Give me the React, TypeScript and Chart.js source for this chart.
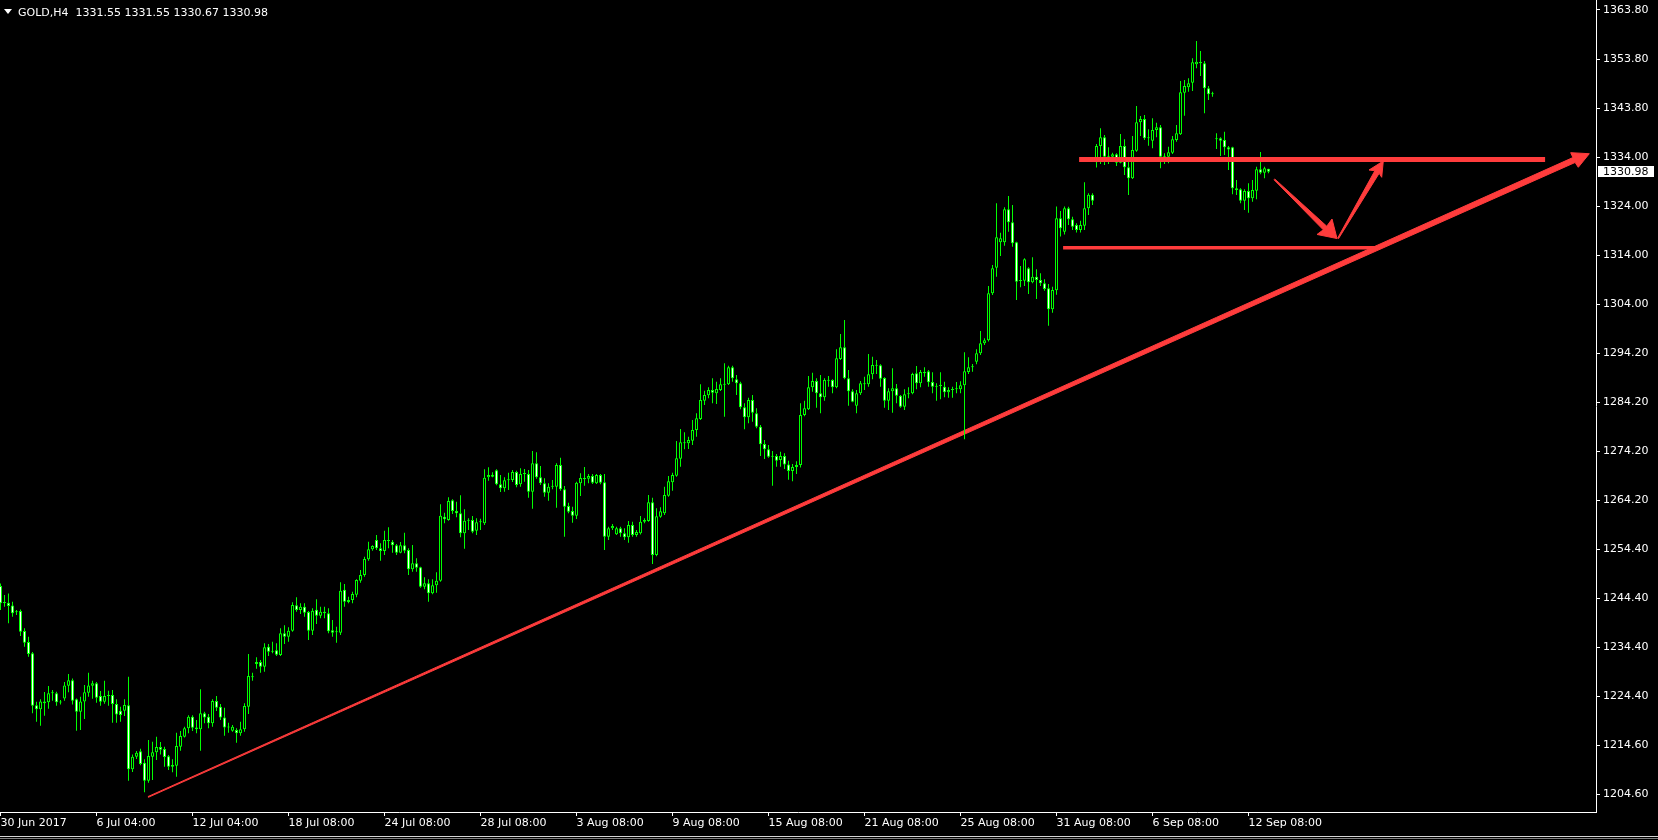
import React, { useEffect, useRef } from "react";
import { Chart, registerables } from "chart.js";

Chart.register(...registerables);

const symbol = "GOLD,H4";

const xTickBars = [0, 24, 48, 72, 96, 120, 144, 168, 192, 216, 240, 264, 288, 312];
const xTickLabels = [
  "30 Jun 2017", "6 Jul 04:00", "12 Jul 04:00", "18 Jul 08:00", "24 Jul 08:00",
  "28 Jul 08:00", "3 Aug 08:00", "9 Aug 08:00", "15 Aug 08:00", "21 Aug 08:00",
  "25 Aug 08:00", "31 Aug 08:00", "6 Sep 08:00", "12 Sep 08:00",
];

const yTickLabels = [
  "1363.80", "1353.80", "1343.80", "1334.00", "1324.00", "1314.00", "1304.00", "1294.20",
  "1284.20", "1274.20", "1264.20", "1254.40", "1244.40", "1234.40", "1224.40", "1214.60", "1204.60",
];
const yTickTop = 1363.8;
const yTickStep = 9.95;

const opens = [
  1246.84, 1243.40, 1243.46, 1242.90, 1241.50, 1241.76, 1237.70, 1235.47, 1233.17, 1222.61,
  1221.80, 1223.42, 1223.22, 1225.05, 1225.05, 1223.20, 1224.03, 1226.60, 1227.69, 1223.83,
  1221.33, 1223.42, 1225.18, 1226.60, 1227.08, 1224.51, 1223.36, 1224.51, 1224.71, 1222.88,
  1221.53, 1221.53, 1222.61, 1209.62, 1212.19, 1213.27, 1210.97, 1207.31, 1212.19, 1213.07,
  1214.15, 1213.75, 1212.26, 1210.16, 1210.36, 1214.22, 1216.25, 1217.94, 1220.31, 1218.14,
  1217.74, 1220.99, 1220.31, 1218.96, 1223.49, 1222.34, 1220.17, 1218.14, 1217.47, 1217.60,
  1216.93, 1217.74, 1222.34, 1228.50, 1231.00, 1231.42, 1230.47, 1234.53, 1233.50, 1233.78,
  1232.84, 1237.24, 1236.56, 1237.78, 1242.92, 1241.97, 1242.65, 1241.57, 1237.78, 1242.04,
  1240.82, 1241.63, 1241.30, 1237.84, 1237.44, 1237.37, 1246.10, 1243.60, 1244.00, 1245.09,
  1247.93, 1249.08, 1252.26, 1254.29, 1256.19, 1254.49, 1253.95, 1256.19, 1255.85, 1255.10,
  1253.61, 1255.10, 1254.16, 1250.23, 1251.45, 1250.64, 1246.71, 1247.39, 1245.36, 1246.98,
  1247.93, 1260.92, 1260.25, 1264.24, 1262.07, 1261.60, 1257.54, 1260.11, 1260.25, 1258.08,
  1259.77, 1259.57, 1268.91, 1269.05, 1270.33, 1267.49, 1266.68, 1268.30, 1268.37, 1269.99,
  1267.49, 1269.59, 1269.59, 1266.00, 1271.76, 1268.91, 1267.70, 1265.80, 1267.02, 1267.02,
  1271.42, 1266.48, 1263.09, 1262.08, 1261.13, 1267.70, 1268.78, 1268.64, 1269.19, 1267.70,
  1269.39, 1267.90, 1256.87, 1258.56, 1257.34, 1258.56, 1257.54, 1256.73, 1259.24, 1257.20,
  1257.54, 1259.91, 1260.05, 1263.84, 1253.14, 1260.93, 1261.60, 1265.19, 1267.90, 1269.25,
  1272.70, 1276.02, 1275.82, 1276.36, 1278.53, 1280.76, 1284.48, 1285.56, 1286.65, 1285.97,
  1286.65, 1287.80, 1287.80, 1291.25, 1288.81, 1288.00, 1283.13, 1281.10, 1284.62, 1281.91,
  1279.20, 1275.68, 1274.60, 1273.31, 1273.25, 1272.43, 1273.25, 1271.50, 1270.20, 1271.00,
  1271.40, 1281.56, 1282.71, 1287.18, 1288.47, 1285.96, 1285.15, 1288.67, 1288.67, 1287.18,
  1292.93, 1295.30, 1289.01, 1286.37, 1283.46, 1285.96, 1287.99, 1287.79, 1289.82, 1291.72,
  1291.65, 1289.08, 1284.48, 1286.37, 1286.98, 1285.49, 1283.26, 1285.76, 1285.96, 1290.02,
  1287.99, 1290.30, 1290.43, 1288.27, 1287.32, 1287.52, 1287.32, 1286.17, 1286.64, 1286.78,
  1286.78, 1287.59, 1290.30, 1291.24, 1292.39, 1294.09, 1296.12, 1296.72, 1306.27, 1311.48,
  1316.62, 1316.62, 1323.32, 1320.68, 1316.62, 1308.77, 1308.84, 1311.34, 1308.50, 1309.65,
  1308.98, 1308.30, 1307.28, 1303.02, 1306.90, 1321.50, 1318.80, 1323.53, 1321.30, 1320.15,
  1319.13, 1320.01, 1323.53, 1326.30, 1332.90, 1336.19, 1337.95, 1334.02, 1334.02, 1334.50,
  1332.80, 1336.19, 1331.86, 1329.62, 1335.24, 1340.99, 1341.67, 1337.74, 1337.27, 1339.44,
  1339.98, 1334.02, 1334.02, 1334.83, 1337.41, 1338.56, 1347.02, 1348.10, 1349.05, 1352.77,
  1353.24, 1352.97, 1347.90, 1346.68, 1337.54, 1337.74, 1337.41, 1335.92, 1335.92, 1327.59,
  1327.39, 1325.09, 1327.05, 1325.56, 1327.12, 1331.45, 1330.77, 1331.55,
];

const highs = [
  1247.38, 1245.01, 1245.35, 1243.66, 1241.97, 1242.10, 1238.25, 1236.55, 1233.44, 1223.36,
  1223.83, 1225.32, 1226.54, 1225.72, 1225.39, 1223.70, 1227.35, 1228.97, 1228.09, 1224.03,
  1224.37, 1226.74, 1229.24, 1227.62, 1227.35, 1225.52, 1227.62, 1225.59, 1225.72, 1223.83,
  1222.34, 1223.83, 1228.43, 1212.66, 1213.34, 1213.81, 1211.65, 1215.57, 1215.23, 1216.25,
  1215.17, 1214.22, 1212.53, 1211.65, 1217.06, 1217.40, 1218.28, 1220.58, 1220.58, 1219.63,
  1225.86, 1221.33, 1220.85, 1223.83, 1224.51, 1222.88, 1222.14, 1219.09, 1218.62, 1217.94,
  1219.30, 1223.02, 1233.03, 1229.24, 1232.36, 1231.82, 1235.20, 1235.07, 1235.54, 1235.20,
  1238.25, 1238.86, 1238.45, 1243.53, 1244.54, 1243.33, 1243.33, 1241.77, 1242.31, 1244.14,
  1242.65, 1242.65, 1242.31, 1239.94, 1238.59, 1247.59, 1247.25, 1244.68, 1245.70, 1248.20,
  1250.09, 1252.80, 1255.85, 1255.10, 1257.20, 1255.51, 1258.08, 1258.76, 1256.19, 1255.37,
  1255.78, 1257.67, 1254.49, 1255.17, 1252.46, 1250.77, 1248.61, 1248.20, 1248.20, 1249.62,
  1263.43, 1261.74, 1264.85, 1264.44, 1263.97, 1265.25, 1262.41, 1260.58, 1261.06, 1260.58,
  1260.52, 1270.53, 1270.94, 1269.92, 1270.53, 1269.38, 1268.91, 1269.86, 1270.40, 1270.26,
  1270.74, 1270.61, 1270.40, 1274.26, 1273.99, 1271.22, 1268.71, 1267.70, 1268.37, 1271.76,
  1272.91, 1267.15, 1263.77, 1262.96, 1268.03, 1269.73, 1271.01, 1269.59, 1269.59, 1269.59,
  1269.59, 1269.59, 1258.90, 1259.44, 1258.90, 1258.90, 1258.56, 1260.05, 1259.91, 1258.22,
  1261.06, 1260.59, 1265.33, 1264.79, 1262.62, 1262.82, 1267.02, 1269.19, 1269.86, 1276.29,
  1278.73, 1278.05, 1277.17, 1280.56, 1281.91, 1287.80, 1286.51, 1287.19, 1289.02, 1288.34,
  1289.02, 1292.06, 1291.59, 1291.59, 1289.69, 1288.34, 1283.94, 1285.09, 1285.63, 1282.92,
  1279.54, 1276.49, 1275.48, 1274.26, 1273.65, 1274.13, 1273.80, 1272.30, 1271.60, 1272.20,
  1283.93, 1284.48, 1289.48, 1290.16, 1289.01, 1289.69, 1289.01, 1289.48, 1288.81, 1294.90,
  1298.01, 1300.85, 1290.70, 1286.78, 1286.64, 1288.47, 1289.35, 1293.95, 1293.41, 1292.73,
  1291.85, 1289.21, 1286.98, 1291.04, 1287.86, 1285.62, 1286.78, 1287.18, 1290.16, 1291.51,
  1290.70, 1291.24, 1290.70, 1290.23, 1287.99, 1290.23, 1288.33, 1287.18, 1287.32, 1288.27,
  1288.40, 1294.29, 1293.27, 1291.92, 1294.90, 1298.62, 1297.13, 1307.76, 1312.02, 1324.54,
  1318.59, 1323.73, 1326.03, 1324.20, 1316.76, 1311.82, 1313.37, 1311.55, 1313.58, 1311.14,
  1310.33, 1309.11, 1308.16, 1307.62, 1323.90, 1323.00, 1323.90, 1323.87, 1321.84, 1320.49,
  1321.03, 1328.81, 1326.58, 1326.58, 1336.59, 1339.77, 1338.42, 1335.92, 1334.83, 1334.70,
  1338.62, 1337.54, 1333.01, 1338.22, 1344.31, 1342.28, 1342.48, 1339.57, 1341.80, 1340.92,
  1340.45, 1334.70, 1336.05, 1338.22, 1340.45, 1349.38, 1349.59, 1349.93, 1353.99, 1357.51,
  1355.48, 1353.45, 1348.37, 1347.22, 1338.76, 1337.95, 1339.10, 1336.19, 1336.05, 1329.28,
  1327.59, 1327.39, 1328.61, 1329.28, 1331.99, 1334.97, 1331.99, 1331.55,
];

const lows = [
  1241.97, 1242.64, 1239.26, 1240.61, 1240.95, 1236.69, 1234.52, 1232.49, 1220.99, 1219.30,
  1218.48, 1220.51, 1221.93, 1223.56, 1222.54, 1222.80, 1223.56, 1225.25, 1222.81, 1217.47,
  1217.60, 1219.84, 1224.37, 1223.97, 1223.15, 1222.54, 1222.95, 1222.54, 1219.09, 1219.09,
  1219.30, 1220.45, 1207.31, 1209.07, 1211.71, 1210.43, 1204.95, 1206.91, 1207.45, 1211.51,
  1212.66, 1210.16, 1209.48, 1209.01, 1208.13, 1213.41, 1216.11, 1216.93, 1217.40, 1216.93,
  1213.41, 1218.96, 1217.94, 1218.28, 1221.46, 1219.63, 1216.45, 1217.06, 1217.26, 1215.03,
  1216.45, 1217.26, 1220.85, 1227.60, 1230.06, 1229.25, 1229.45, 1232.63, 1233.18, 1232.63,
  1232.63, 1235.07, 1235.54, 1237.57, 1241.63, 1241.16, 1240.62, 1235.88, 1236.90, 1239.13,
  1240.28, 1240.28, 1237.24, 1236.56, 1235.34, 1236.90, 1242.65, 1243.33, 1243.33, 1244.54,
  1247.52, 1248.74, 1251.99, 1254.02, 1254.16, 1251.99, 1253.14, 1254.49, 1253.61, 1253.14,
  1253.48, 1253.48, 1249.08, 1249.76, 1249.76, 1246.51, 1246.17, 1243.66, 1245.15, 1245.49,
  1247.73, 1259.57, 1260.11, 1261.46, 1260.79, 1256.73, 1254.43, 1258.22, 1257.54, 1257.20,
  1258.22, 1259.23, 1268.23, 1268.91, 1267.29, 1265.93, 1266.00, 1266.34, 1267.96, 1266.90,
  1267.02, 1268.03, 1264.79, 1262.55, 1268.64, 1267.36, 1264.99, 1264.17, 1266.48, 1262.76,
  1266.20, 1256.87, 1261.60, 1259.71, 1260.45, 1265.12, 1267.22, 1267.70, 1267.56, 1267.56,
  1267.49, 1254.16, 1256.19, 1258.22, 1257.20, 1256.87, 1256.19, 1255.65, 1256.87, 1256.87,
  1257.30, 1259.57, 1259.91, 1251.32, 1252.90, 1260.72, 1261.27, 1264.99, 1266.21, 1269.05,
  1271.08, 1274.60, 1274.67, 1275.48, 1277.17, 1280.56, 1283.60, 1284.95, 1283.94, 1283.80,
  1286.44, 1281.23, 1287.66, 1288.34, 1285.63, 1282.72, 1278.66, 1279.88, 1280.22, 1278.86,
  1273.25, 1272.64, 1272.91, 1267.22, 1271.08, 1271.08, 1270.60, 1268.40, 1268.10, 1269.60,
  1270.90, 1281.30, 1282.58, 1286.30, 1283.05, 1281.90, 1284.48, 1287.32, 1285.96, 1286.98,
  1292.73, 1288.81, 1283.46, 1284.14, 1281.90, 1285.62, 1286.64, 1287.32, 1288.81, 1289.89,
  1287.32, 1283.05, 1282.58, 1282.04, 1283.93, 1283.05, 1282.58, 1284.95, 1285.76, 1286.78,
  1287.18, 1289.35, 1287.32, 1285.96, 1284.48, 1284.75, 1285.15, 1285.08, 1285.08, 1285.96,
  1285.96, 1276.62, 1289.89, 1290.36, 1291.85, 1293.75, 1295.78, 1296.50, 1305.93, 1309.65,
  1313.85, 1315.95, 1318.79, 1315.74, 1304.91, 1307.49, 1307.76, 1306.13, 1308.30, 1305.12,
  1307.76, 1306.81, 1299.70, 1302.34, 1306.00, 1317.80, 1318.20, 1320.15, 1319.13, 1318.60,
  1318.60, 1319.13, 1322.18, 1324.21, 1331.80, 1332.53, 1332.33, 1332.53, 1333.14, 1332.13,
  1332.67, 1330.30, 1326.24, 1329.49, 1335.04, 1338.22, 1337.41, 1336.25, 1335.71, 1337.95,
  1331.65, 1332.53, 1332.67, 1334.56, 1337.07, 1338.42, 1342.35, 1347.22, 1347.35, 1351.96,
  1350.40, 1342.82, 1345.53, 1346.20, 1335.58, 1334.16, 1334.36, 1331.31, 1326.37, 1326.24,
  1324.55, 1323.19, 1322.65, 1324.88, 1325.36, 1330.43, 1329.62, 1330.67,
];

const closes = [
  1243.32, 1243.50, 1242.78, 1241.29, 1241.60, 1237.57, 1235.33, 1233.03, 1222.54, 1221.80,
  1223.42, 1223.02, 1225.05, 1225.10, 1223.22, 1223.30, 1226.67, 1227.69, 1223.56, 1221.33,
  1223.42, 1225.25, 1226.67, 1227.08, 1224.17, 1223.36, 1224.51, 1224.71, 1222.88, 1220.78,
  1220.65, 1222.68, 1209.62, 1212.19, 1213.00, 1210.70, 1207.31, 1212.32, 1213.07, 1214.15,
  1213.61, 1212.12, 1210.16, 1210.50, 1214.35, 1216.38, 1217.94, 1220.31, 1218.08, 1217.74,
  1220.99, 1220.17, 1218.96, 1223.49, 1222.14, 1220.17, 1218.14, 1218.20, 1218.28, 1216.93,
  1217.74, 1222.48, 1228.57, 1228.30, 1231.40, 1230.47, 1234.39, 1233.51, 1233.72, 1232.90,
  1237.24, 1236.56, 1237.78, 1242.99, 1241.97, 1242.65, 1241.43, 1237.78, 1241.84, 1240.82,
  1241.63, 1241.30, 1237.64, 1237.37, 1237.50, 1245.90, 1243.66, 1244.00, 1245.22, 1248.06,
  1249.08, 1252.33, 1254.29, 1254.97, 1254.49, 1253.95, 1256.19, 1255.98, 1255.10, 1253.61,
  1255.10, 1254.02, 1250.23, 1251.45, 1250.57, 1246.71, 1247.39, 1245.36, 1246.98, 1247.93,
  1261.13, 1260.38, 1264.10, 1262.07, 1261.60, 1257.54, 1260.11, 1260.25, 1257.88, 1259.77,
  1259.84, 1268.84, 1269.38, 1269.45, 1267.49, 1266.68, 1268.30, 1268.37, 1269.99, 1267.35,
  1269.59, 1269.73, 1266.00, 1271.76, 1268.91, 1267.70, 1265.80, 1267.02, 1267.22, 1271.42,
  1266.48, 1262.96, 1261.94, 1261.13, 1267.83, 1268.78, 1268.51, 1269.19, 1267.83, 1269.39,
  1267.83, 1256.87, 1258.56, 1259.03, 1258.56, 1257.54, 1256.73, 1259.24, 1257.20, 1257.81,
  1259.91, 1260.25, 1263.84, 1253.14, 1261.00, 1262.01, 1265.33, 1268.10, 1269.39, 1272.77,
  1276.02, 1275.82, 1276.49, 1278.53, 1280.89, 1284.62, 1285.63, 1286.65, 1286.11, 1286.85,
  1287.80, 1287.70, 1291.25, 1289.02, 1288.00, 1283.13, 1281.10, 1284.62, 1282.04, 1279.20,
  1275.62, 1274.60, 1273.11, 1273.11, 1272.30, 1273.25, 1271.50, 1270.20, 1271.00, 1271.40,
  1281.56, 1282.92, 1287.18, 1288.47, 1285.96, 1285.15, 1288.67, 1288.54, 1287.18, 1293.07,
  1295.30, 1289.01, 1286.37, 1284.27, 1285.96, 1287.99, 1287.79, 1289.82, 1291.72, 1291.58,
  1288.94, 1284.48, 1286.37, 1286.98, 1285.49, 1283.26, 1285.76, 1285.96, 1289.89, 1287.99,
  1290.30, 1290.02, 1288.20, 1287.32, 1287.52, 1287.45, 1286.17, 1286.64, 1286.78, 1286.85,
  1287.59, 1290.43, 1291.24, 1291.31, 1294.09, 1296.12, 1296.72, 1306.27, 1311.34, 1317.64,
  1317.44, 1323.32, 1320.68, 1316.42, 1308.64, 1308.98, 1313.17, 1308.50, 1309.65, 1308.98,
  1308.30, 1307.15, 1303.02, 1306.95, 1321.50, 1319.50, 1323.53, 1321.30, 1319.81, 1319.13,
  1320.15, 1323.53, 1326.30, 1325.09, 1336.19, 1337.95, 1334.02, 1334.10, 1334.50, 1332.80,
  1336.19, 1331.86, 1329.62, 1335.37, 1340.99, 1341.67, 1337.74, 1337.80, 1339.44, 1339.98,
  1334.02, 1334.16, 1334.90, 1337.54, 1338.76, 1347.08, 1348.37, 1348.91, 1353.17, 1353.31,
  1352.97, 1347.90, 1346.68, 1346.75, 1337.60, 1337.27, 1335.92, 1335.50, 1327.59, 1327.25,
  1325.09, 1327.05, 1325.56, 1327.25, 1331.45, 1330.77, 1331.65, 1330.98,
];

// Hand-drawn annotations, in (bar index, price) units
const resistanceLine = [
  { x: 269.65, y: 1333.46 },
  { x: 386.15, y: 1333.46 },
];
const supportLine = [
  { x: 265.65, y: 1315.52 },
  { x: 344.15, y: 1315.52 },
];
const trendArrow = [
  { x: 36.92, y: 1203.93 },
  { x: 393.65, y: 1332.84 },
  { x: 394.45, y: 1331.86 },
  { x: 397.2, y: 1334.62 },
  { x: 392.55, y: 1334.83 },
  { x: 393.1, y: 1333.84 },
  { x: 36.84, y: 1204.08 },
];
const downArrow = [
  { x: 318.36, y: 1329.35 },
  { x: 330.69, y: 1319.17 },
  { x: 329.13, y: 1318.22 },
  { x: 334.13, y: 1317.4 },
  { x: 332.88, y: 1321.36 },
  { x: 331.56, y: 1319.9 },
  { x: 318.54, y: 1329.5 },
];
const upArrow = [
  { x: 334.48, y: 1317.35 },
  { x: 344.67, y: 1330.65 },
  { x: 345.3, y: 1329.83 },
  { x: 345.7, y: 1333.14 },
  { x: 342.13, y: 1331.31 },
  { x: 343.59, y: 1331.16 },
  { x: 334.27, y: 1317.45 },
];

const GREEN = "#00ff00";
const RED = "#ff3c3c";
const FONT = "DejaVu Sans";

const priceTagPlugin = {
  id: "priceTag",
  afterDraw(chart: any) {
    const { ctx, chartArea, scales } = chart;
    const last = closes[closes.length - 1];
    const y = Math.round(scales.y.getPixelForValue(last));
    ctx.save();
    ctx.fillStyle = "#ffffff";
    ctx.fillRect(chartArea.right + 2, y - 6, 56, 11);
    ctx.fillStyle = "#000000";
    ctx.font = `11px "${FONT}"`;
    ctx.textBaseline = "middle";
    ctx.textAlign = "left";
    ctx.fillText(last.toFixed(2), chartArea.right + 7, y);
    ctx.restore();
  },
};

export default function App() {
  const canvasRef = useRef<HTMLCanvasElement | null>(null);

  useEffect(() => {
    document.body.style.margin = "0";
    document.body.style.background = "#000";
    const canvas = canvasRef.current;
    if (!canvas) return;

    const wickData = opens.map((_, i) => ({ x: i, y: [lows[i], highs[i]] }));
    const bodyData = opens.map((o, i) => ({ x: i, y: [o, closes[i]] }));
    const bodyColors = opens.map((o, i) => (closes[i] > o ? "#000000" : "#ffffff"));
    const yTickValues = yTickLabels.map((_, k) => yTickTop - k * yTickStep);

    const polygon = (data: any[], order: number) => ({
      type: "line" as const,
      data,
      borderColor: RED,
      backgroundColor: RED,
      borderWidth: 1,
      fill: "shape",
      pointRadius: 0,
      tension: 0,
      order,
    });
    const hLine = (data: any[], width: number, order: number) => ({
      type: "line" as const,
      data,
      borderColor: RED,
      borderWidth: width,
      borderCapStyle: "butt",
      fill: false,
      pointRadius: 0,
      tension: 0,
      order,
    });

    const chart = new Chart(canvas, {
      type: "bar",
      data: {
        datasets: [
          polygon(trendArrow, 5) as any,
          {
            type: "bar",
            data: wickData,
            backgroundColor: GREEN,
            borderWidth: 0,
            barThickness: 1,
            grouped: false,
            inflateAmount: 0,
            order: 4,
          } as any,
          {
            type: "bar",
            data: bodyData,
            backgroundColor: bodyColors,
            borderColor: GREEN,
            borderWidth: 1,
            borderSkipped: false,
            barThickness: 3,
            grouped: false,
            minBarLength: 1,
            inflateAmount: 0,
            order: 3,
          } as any,
          hLine(resistanceLine, 5, 2) as any,
          hLine(supportLine, 3.5, 2) as any,
          polygon(downArrow, 1) as any,
          polygon(upArrow, 1) as any,
        ],
      },
      options: {
        responsive: false,
        devicePixelRatio: 1,
        animation: false,
        events: [],
        layout: { padding: 0 },
        plugins: {
          legend: { display: false },
          tooltip: { enabled: false },
          title: { display: false },
        },
        scales: {
          x: {
            type: "linear",
            min: -0.125,
            max: 398.875,
            offset: false,
            grid: {
              offset: false,
              drawOnChartArea: false,
              drawTicks: true,
              tickLength: 4,
              color: "#ffffff",
            },
            border: { display: true, color: "#ffffff", width: 1 },
            ticks: {
              color: "#ffffff",
              font: { family: FONT, size: 11 },
              align: "start",
              maxRotation: 0,
              minRotation: 0,
              autoSkip: false,
              padding: 1,
              callback: (_v: any, idx: number) => xTickLabels[idx],
            },
            afterBuildTicks: (scale: any) => {
              scale.ticks = xTickBars.map((v) => ({ value: v }));
            },
            afterFit: (scale: any) => {
              scale.height = 28;
              scale.paddingLeft = 0;
              scale.paddingRight = 0;
            },
          },
          y: {
            type: "linear",
            position: "right",
            min: 1200.96,
            max: 1365.83,
            grid: {
              drawOnChartArea: false,
              drawTicks: true,
              tickLength: 4,
              color: "#ffffff",
            },
            border: { display: true, color: "#ffffff", width: 1 },
            ticks: {
              color: "#ffffff",
              font: { family: FONT, size: 11 },
              padding: 3,
              autoSkip: false,
              callback: (_v: any, idx: number) => yTickLabels[idx],
            },
            afterBuildTicks: (scale: any) => {
              scale.ticks = yTickValues.map((v) => ({ value: v }));
            },
            afterFit: (scale: any) => {
              scale.width = 62;
              scale.paddingTop = 0;
              scale.paddingBottom = 0;
            },
          },
        },
      } as any,
      plugins: [priceTagPlugin],
    });

    return () => chart.destroy();
  }, []);

  const last = opens.length - 1;
  const header = `${symbol}  ${opens[last].toFixed(2)} ${highs[last].toFixed(2)} ${lows[last].toFixed(2)} ${closes[last].toFixed(2)}`;

  return (
    <div
      style={{
        position: "fixed",
        left: 0,
        top: 0,
        width: 1658,
        height: 840,
        background: "#000",
        overflow: "hidden",
      }}
    >
      <canvas ref={canvasRef} width={1658} height={840} style={{ display: "block" }} />
      <div
        style={{
          position: "absolute",
          left: 4,
          top: 9,
          width: 0,
          height: 0,
          borderLeft: "4px solid transparent",
          borderRight: "4px solid transparent",
          borderTop: "5px solid #ffffff",
        }}
      />
      <div
        style={{
          position: "absolute",
          left: 18,
          top: 6,
          color: "#ffffff",
          fontFamily: FONT,
          fontSize: 11,
          lineHeight: "13px",
          whiteSpace: "pre",
        }}
      >
        {header}
      </div>
      <div style={{ position: "absolute", left: 0, top: 836, width: 1658, height: 1, background: "#d4d4d4" }} />
      <div style={{ position: "absolute", left: 0, top: 838, width: 1658, height: 1, background: "#808080" }} />
    </div>
  );
}
